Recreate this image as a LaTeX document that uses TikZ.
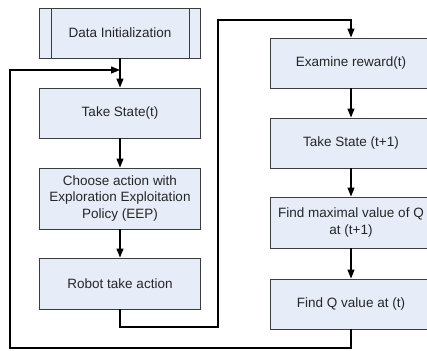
\documentclass[tikz,border=0pt]{standalone}
\usepackage{fontspec}
\setmainfont{Liberation Sans}
\usetikzlibrary{arrows.meta}

\definecolor{boxfill}{RGB}{230,236,248}
\definecolor{boxline}{RGB}{60,60,60}

\tikzset{
    stepbox/.style={draw=boxline, fill=boxfill, line width=0.9pt,
        minimum width=161pt, minimum height=50pt, align=center,
        font=\fontsize{13.5}{16.5}\selectfont, text=black!85, inner sep=2pt},
    flow/.style={line width=1.2pt, -{Triangle[length=9pt,width=7pt]}},
    wire/.style={line width=1.2pt}
}

\begin{document}
\begin{tikzpicture}[x=1pt,y=-1pt]
    \useasboundingbox (0,0) rectangle (427,350);

    % Left column
    \node[stepbox] (init) at (120,33) {Data Initialization};
    \draw[boxline, line width=0.9pt] ([xshift=12pt]init.north west) -- ([xshift=12pt]init.south west);
    \draw[boxline, line width=0.9pt] ([xshift=-12pt]init.north east) -- ([xshift=-12pt]init.south east);
    \node[stepbox] (state) at (120,113) {Take State(t)};
    \node[stepbox, minimum height=61pt] (choose) at (120,198.5)
        {Choose action with\\Exploration Exploitation\\Policy (EEP)};
    \node[stepbox, minimum height=51pt] (act) at (120,283.5) {Robot take action};

    % Right column
    \node[stepbox, minimum width=162pt] (reward) at (351,63) {Examine reward(t)};
    \node[stepbox, minimum width=162pt] (next) at (351,143) {Take State (t+1)};
    \node[stepbox, minimum width=162pt, minimum height=51pt] (maxq) at (351,222.5)
        {Find maximal value of Q\\at (t+1)};
    \node[stepbox, minimum width=162pt] (qval) at (351,304) {Find Q value at (t)};

    % Turning points
    \coordinate (lowmid) at (218,327);
    \coordinate (topmid) at (218,20);
    \coordinate (lowleft) at (10,348);
    \coordinate (upleft) at (10,70);
    \coordinate (merge) at (120,70);

    % Arrows down the columns
    \draw[flow] (init) -- (state);
    \draw[flow] (state) -- (choose);
    \draw[flow] (choose) -- (act);
    \draw[flow] (reward) -- (next);
    \draw[flow] (next) -- (maxq);
    \draw[flow] (maxq) -- (qval);

    % Links between the columns
    \draw[flow] (act.south) |- (lowmid) -- (topmid) -| (reward.north);
    \draw[flow] (qval.south) |- (lowleft) -- (upleft) -- (merge);
\end{tikzpicture}
\end{document}
